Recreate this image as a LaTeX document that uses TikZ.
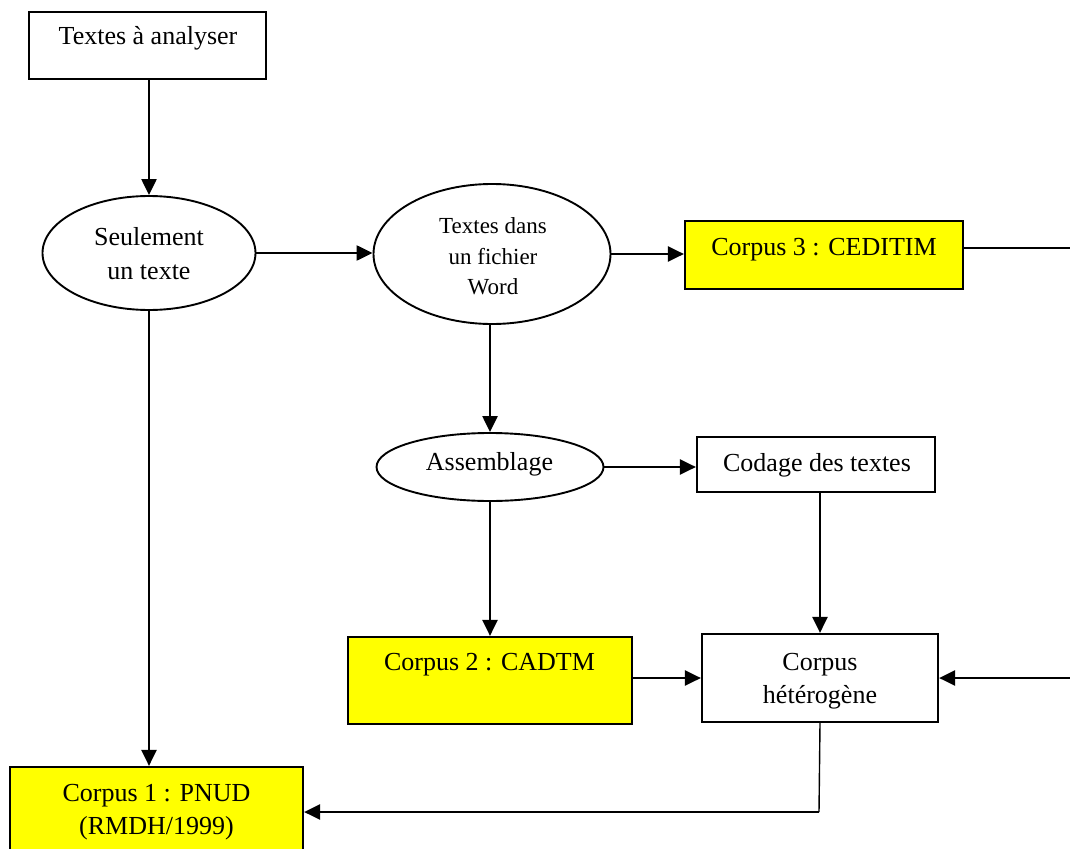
\documentclass[tikz,border=0pt]{standalone}
\usepackage{fontspec}
\setmainfont{Liberation Serif}
\usetikzlibrary{arrows.meta,shapes.geometric}
\definecolor{corpusyellow}{RGB}{255,255,0}
\tikzset{
  boxw/.style={draw=black,line width=2.2pt,fill=white,rectangle,inner sep=0pt},
  boxy/.style={draw=black,line width=2.2pt,fill=corpusyellow,rectangle,inner sep=0pt},
  ell/.style={draw=black,line width=1.9pt,fill=white,ellipse,inner sep=0pt},
  txt/.style={anchor=base,inner sep=0pt,font=\fontsize{26}{33}\selectfont},
  txts/.style={anchor=base,inner sep=0pt,font=\fontsize{23}{30}\selectfont},
  arr/.style={line width=2.4pt,-{Triangle[length=16pt,width=15pt]}},
  ln/.style={line width=2.4pt},
  thin line/.style={line width=1.4pt}
}
\begin{document}
\begin{tikzpicture}[x=1pt,y=-1pt]
\useasboundingbox (0,0) rectangle (1070,848);
\clip (0,0) rectangle (1070,848);
\fill[white] (0,0) rectangle (1070,848);

% shapes
\node[boxw, minimum width=237pt, minimum height=67pt] (s0) at (147.5,45.5) {};
\node[ell, minimum width=213pt, minimum height=114pt] (e1) at (149,253) {};
\node[ell, minimum width=237pt, minimum height=140pt] (e2) at (492,254) {};
\node[boxy, minimum width=278pt, minimum height=68pt] (c3) at (824,255) {};
\node[ell, minimum width=227pt, minimum height=68pt] (e3) at (490,467) {};
\node[boxw, minimum width=238pt, minimum height=55pt] (cod) at (816,464.5) {};
\node[boxy, minimum width=284pt, minimum height=87pt] (c2) at (490,680.5) {};
\node[boxw, minimum width=236pt, minimum height=88pt] (het) at (820,678) {};
\node[boxy, minimum width=293pt, minimum height=93pt] (c1) at (156.5,813.5) {};

% texts
\node[txt] (t0) at (148,45) {Textes à analyser};
\node[txt] (t1a) at (149,245) {Seulement};
\node[txt] (t1b) at (149,279) {un texte};
\node[txts] (t2a) at (493,233) {Textes dans};
\node[txts] (t2b) at (493,264) {un fichier};
\node[txts] (t2c) at (493,294) {Word};
\node[txt] (t3) at (824,255) {Corpus 3 : CEDITIM};
\node[txt] (t4) at (489.5,470) {Assemblage};
\node[txt] (t5) at (817,471.5) {Codage des textes};
\node[txt] (t6) at (489.5,670.5) {Corpus 2 : CADTM};
\node[txt] (t7a) at (820,670) {Corpus};
\node[txt] (t7b) at (820,703) {hétérogène};
\node[txt] (t8a) at (156.5,801.5) {Corpus 1 : PNUD};
\node[txt] (t8b) at (156.5,834) {(RMDH/1999)};

% free ends
\coordinate (R1) at (1075,248);
\coordinate (R2) at (1075,678);
\coordinate (B) at (819,812);

% connectors
\draw[arr] (s0.south -| e1.north) -- (e1.north);
\draw[arr] (e1.east) -- (e1.east -| e2.west);
\draw[arr] (e2.east) -- (e2.east -| c3.west);
\draw[ln] (R1 -| c3.east) -- (R1);
\draw[arr] (e2.south -| e3.north) -- (e3.north);
\draw[arr] (e3.east) -- (e3.east -| cod.west);
\draw[arr] (e3.south) -- (e3.south |- c2.north);
\draw[arr] (het.north |- cod.south) -- (het.north);
\draw[arr] (het.west -| c2.east) -- (het.west);
\draw[arr] (R2) -- (het.east);
\draw[thin line] (het.south) -- (B);
\draw[arr] (B) -- (B -| c1.east);
\draw[arr] (e1.south) -- (e1.south |- c1.north);
\end{tikzpicture}
\end{document}
